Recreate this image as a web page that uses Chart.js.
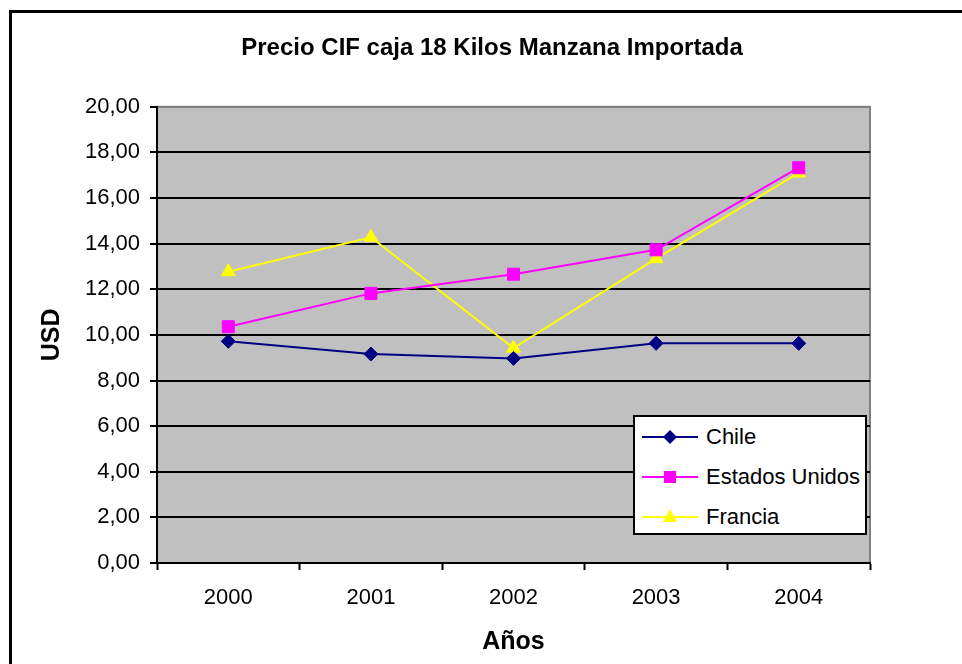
<!DOCTYPE html>
<html>
<head>
<meta charset="utf-8">
<title>Precio CIF caja 18 Kilos Manzana Importada</title>
<script src="https://cdn.jsdelivr.net/npm/chart.js@4.4.0/dist/chart.umd.min.js"></script>
<style>
  html, body { margin: 0; padding: 0; background: #fff; overflow: hidden; }
  #wrap { position: relative; width: 962px; height: 664px; overflow: hidden; }
  #frame { position: absolute; left: 9px; top: 10px; width: 1000px; height: 700px;
           border-top: 3px solid #000; border-left: 3px solid #000; }
  #chart { position: absolute; left: 0; top: 0; }
  #legend { position: absolute; left: 633px; top: 415px; width: 230px; height: 116px;
            background: #fff; border: 2px solid #000;
            font-family: "Liberation Sans", Arial, sans-serif; font-size: 22px; color: #000; }
  .row { height: 40px; display: flex; align-items: center; }
  .row svg { margin-left: 7px; margin-right: 8px; }
</style>
</head>
<body>
<div id="wrap">
  <div id="frame"></div>
  <canvas id="chart" width="984" height="664"></canvas>
  <div id="legend"></div>
</div>
<script>
const years = ["2000", "2001", "2002", "2003", "2004"];
const chile = [9.72, 9.16, 8.97, 9.63, 9.63];
const estadosUnidos = [10.36, 11.82, 12.66, 13.73, 17.33];
const francia = [12.77, 14.28, 9.42, 13.34, 17.10];
const yTickLabels = ["0,00", "2,00", "4,00", "6,00", "8,00", "10,00", "12,00", "14,00", "16,00", "18,00", "20,00"];

const seriesNames = ["Chile", "Estados Unidos", "Francia"];
const seriesColors = ["#000080", "#FF00FF", "#FFFF00"];
const seriesMarkers = ["rectRot", "rect", "triangle"];

const fontName = '"Liberation Sans", Arial, sans-serif';

// gray plot area with a thin darker frame, like the old spreadsheet charts
const plotBg = {
  id: "plotBg",
  beforeDraw(chart) {
    const { ctx, chartArea: a } = chart;
    ctx.save();
    ctx.fillStyle = "#C0C0C0";
    ctx.fillRect(a.left, a.top, a.right - a.left, a.bottom - a.top);
    ctx.strokeStyle = "#808080";
    ctx.lineWidth = 2;
    ctx.strokeRect(a.left, a.top, a.right - a.left, a.bottom - a.top);
    ctx.restore();
  }
};

const ctx = document.getElementById("chart").getContext("2d");

new Chart(ctx, {
  type: "line",
  data: {
    labels: years,
    datasets: [
      { label: seriesNames[0], data: chile, borderColor: seriesColors[0], backgroundColor: seriesColors[0],
        pointStyle: seriesMarkers[0], pointRadius: 7, borderWidth: 2, pointBorderWidth: 1 },
      { label: seriesNames[1], data: estadosUnidos, borderColor: seriesColors[1], backgroundColor: seriesColors[1],
        pointStyle: seriesMarkers[1], pointRadius: 8.5, borderWidth: 2, pointBorderWidth: 1 },
      { label: seriesNames[2], data: francia, borderColor: seriesColors[2], backgroundColor: seriesColors[2],
        pointStyle: seriesMarkers[2], pointRadius: 8, borderWidth: 2, pointBorderWidth: 1 }
    ]
  },
  options: {
    responsive: false,
    animation: false,
    layout: { padding: 0 },
    plugins: {
      legend: { display: false },
      tooltip: { enabled: false },
      title: {
        display: true,
        text: "Precio CIF caja 18 Kilos Manzana Importada",
        color: "#000",
        font: { family: fontName, size: 24, weight: "bold" },
        padding: { top: 34, bottom: 44 }
      }
    },
    scales: {
      x: {
        offset: true,
        grid: { offset: true, drawOnChartArea: false, drawTicks: true, tickLength: 7,
                tickColor: "#000", tickWidth: 2 },
        border: { color: "#000", width: 2 },
        ticks: { color: "#000", font: { family: fontName, size: 22 }, padding: 15 },
        title: { display: true, text: "Años", color: "#000",
                 font: { family: fontName, size: 25, weight: "bold" }, padding: { top: 0, bottom: 7 } },
        afterFit(s) { s.height = 101; }
      },
      y: {
        min: 0,
        max: 20,
        ticks: {
          stepSize: 2,
          color: "#000",
          padding: 10,
          font: { family: fontName, size: 22 },
          callback: (v, i) => yTickLabels[i]
        },
        grid: {
          color: (c) => (c.tick && c.tick.value === 20 ? "#808080" : "#000"),
          lineWidth: 2,
          tickLength: 7,
          tickColor: "#000",
          tickWidth: 2
        },
        border: { color: "#000", width: 2 },
        title: { display: true, text: "USD", color: "#000",
                 font: { family: fontName, size: 25, weight: "bold" }, padding: { top: 37, bottom: 0 } },
        afterFit(s) { s.width = 157; }
      },
      // empty axis on the right only to hold the plot's right margin
      yRight: {
        position: "right",
        display: true,
        grid: { drawOnChartArea: false, drawTicks: false },
        border: { display: false },
        ticks: { display: false },
        afterFit(s) { s.width = 114; }
      }
    }
  },
  plugins: [plotBg]
});

// legend box sits inside the plot, bottom right
const legend = document.getElementById("legend");
seriesNames.forEach((name, i) => {
  const row = document.createElement("div");
  row.className = "row";
  let marker;
  if (seriesMarkers[i] === "rectRot") {
    marker = `<polygon points="28,13 35,20 28,27 21,20" fill="${seriesColors[i]}"/>`;
  } else if (seriesMarkers[i] === "rect") {
    marker = `<rect x="22" y="14" width="12" height="12" fill="${seriesColors[i]}"/>`;
  } else {
    marker = `<polygon points="28,12 35,25 21,25" fill="${seriesColors[i]}"/>`;
  }
  row.innerHTML = `<svg width="56" height="40"><line x1="0" y1="20" x2="56" y2="20" stroke="${seriesColors[i]}" stroke-width="2"/>${marker}</svg><span>${name}</span>`;
  legend.appendChild(row);
});
</script>
</body>
</html>
